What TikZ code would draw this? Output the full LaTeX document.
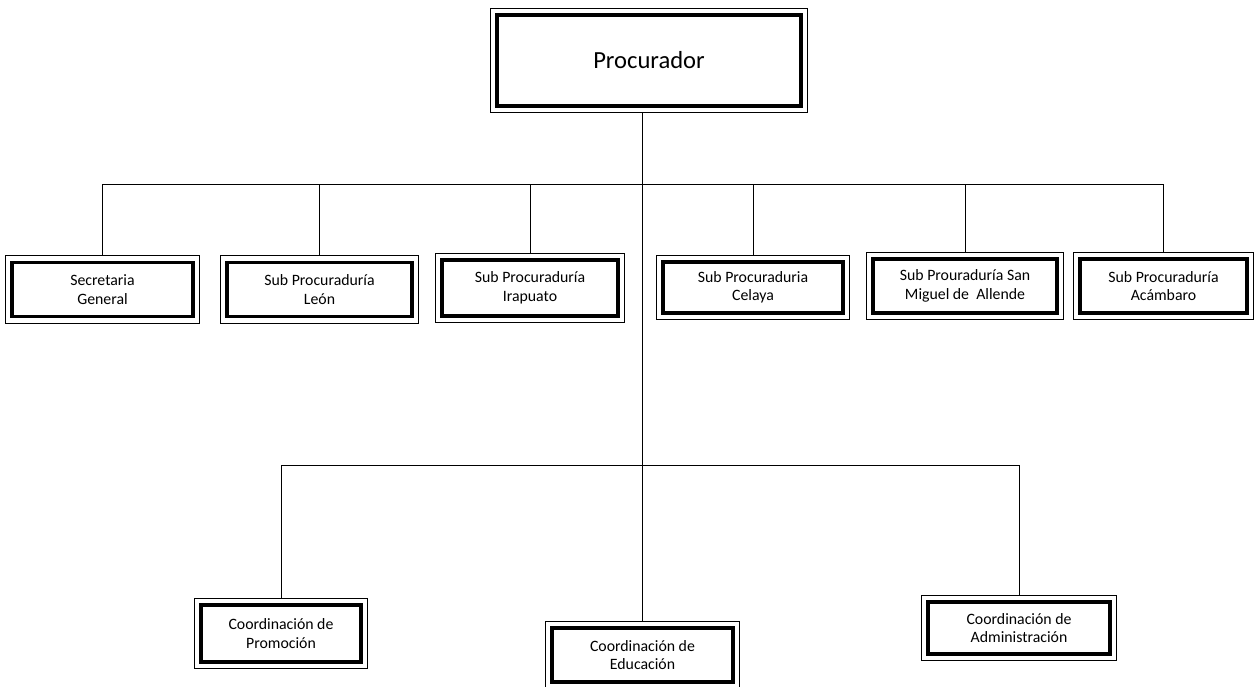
\documentclass[tikz,border=0pt]{standalone}
\usepackage{fontspec}
\setmainfont{Carlito}
\usepackage{tikz}

\tikzset{
  unit/.style={draw, line width=2pt, align=center, inner sep=1pt,
    font=\fontsize{9}{10.5}\selectfont},
  frame/.style={line width=0.6pt},
  link/.style={line width=0.5pt}
}

\begin{document}
\begin{tikzpicture}[x=0.02cm, y=-0.02cm]
    \useasboundingbox (0,0) rectangle (1257,686);

    % Head
    \node[unit, minimum width=6.08cm, minimum height=1.82cm,
          font=\fontsize{14}{16}\selectfont] (proc) at (649,60.5) {Procurador};

    % Upper row
    \node[unit, minimum width=3.62cm, minimum height=1.08cm] (sec) at (102.5,289.5) {Secretaria\\General};
    \node[unit, minimum width=3.70cm, minimum height=1.08cm] (leon) at (319.5,289.5) {Sub Procuraduría\\León};
    \node[unit, minimum width=3.52cm, minimum height=1.12cm] (ira) at (530,288) {Sub Procuraduría\\Irapuato};
    \node[unit, minimum width=3.60cm, minimum height=1.02cm] (cel) at (753,287.5) {Sub Procuraduria\\Celaya};
    \node[unit, minimum width=3.68cm, minimum height=1.08cm] (smig) at (965,286) {Sub Prouraduría San\\Miguel de~ Allende};
    \node[unit, minimum width=3.34cm, minimum height=1.08cm] (aca) at (1163.5,286) {Sub Procuraduría\\Acámbaro};

    % Lower row
    \node[unit, minimum width=3.20cm, minimum height=1.14cm] (prom) at (281,633.5) {Coordinación de\\Promoción};
    \node[unit, minimum width=3.62cm, minimum height=1.08cm] (edu) at (642.5,655) {Coordinación de\\Educación};
    \node[unit, minimum width=3.64cm, minimum height=1.04cm] (adm) at (1019,628) {Coordinación de\\Administración};

    % Thin outer frames
    \foreach \n in {proc,sec,leon,ira,cel,smig,aca,prom,edu,adm}
        \draw[frame] ([shift={(-5,-5)}]\n.north west) rectangle ([shift={(5,5)}]\n.south east);

    % Buses
    \coordinate (topbus) at (640,184);
    \coordinate (lowbus) at (640,465);

    % Spine
    \draw[link] ([shift={(0,5)}]proc.south -| edu.north) -- ([shift={(0,-5)}]edu.north);

    % Upper connectors
    \draw[link] (topbus -| sec.north) -- (topbus -| aca.north);
    \foreach \n in {sec,leon,ira,cel,smig,aca}
        \draw[link] (topbus -| \n.north) -- ([shift={(0,-5)}]\n.north);

    % Lower connectors
    \draw[link] (lowbus -| prom.north) -- (lowbus -| adm.north);
    \foreach \n in {prom,adm}
        \draw[link] (lowbus -| \n.north) -- ([shift={(0,-5)}]\n.north);
\end{tikzpicture}
\end{document}
